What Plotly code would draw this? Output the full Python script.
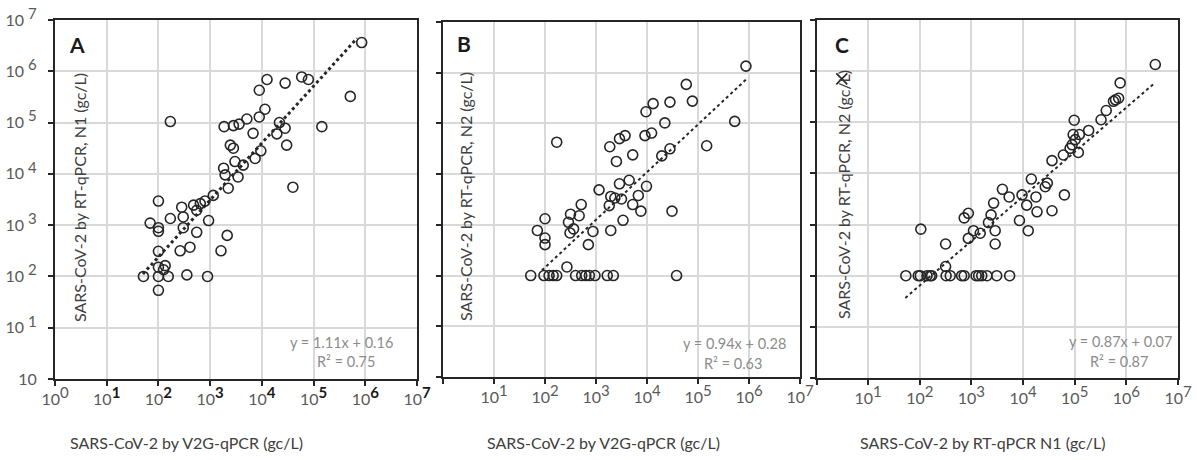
import plotly.graph_objects as go

# ---------------- data (values read as log10 exponents off the log-log chart) ----------------
a_lx = [2.23, 5.93, 5.71, 5.16, 4.77, 4.90, 4.45, 4.10, 3.95, 4.06, 3.95, 4.34, 4.45, 4.29, 4.48,
        3.71, 3.56, 3.45, 3.27, 3.83, 3.39, 3.45, 3.98, 3.87, 3.48, 3.64, 3.26, 3.29, 3.54, 3.35,
        4.60, 2.74, 2.00, 2.45, 2.68, 2.81, 2.90, 3.06, 2.23, 2.48, 2.97, 1.84, 2.00, 2.00, 2.48,
        2.74, 3.33, 2.61, 2.42, 3.21, 2.00, 2.00, 2.13, 2.10, 1.71, 2.00, 2.19, 2.55, 2.95, 2.00]
a_ly = [5.02, 6.56, 5.51, 4.92, 5.89, 5.84, 5.77, 5.84, 5.63, 5.26, 5.11, 5.00, 4.89, 4.78, 4.56,
        5.07, 4.97, 4.94, 4.92, 4.79, 4.56, 4.50, 4.45, 4.30, 4.24, 4.17, 4.11, 3.98, 3.94, 3.72,
        3.74, 3.29, 3.47, 3.35, 3.39, 3.42, 3.47, 3.58, 3.13, 3.16, 3.09, 3.04, 2.95, 2.88, 2.95,
        2.86, 2.80, 2.57, 2.50, 2.50, 2.49, 2.18, 2.21, 2.13, 2.00, 2.00, 2.00, 2.03, 2.00, 1.73]

b_lx = [5.94, 4.77, 4.89, 4.45, 4.12, 3.98, 4.35, 5.72, 4.09, 3.96, 3.57, 3.46, 3.27, 2.23, 3.40,
        3.72, 4.29, 4.45, 5.17, 3.46, 3.65, 3.06, 3.99, 3.29, 3.37, 3.50, 3.83, 3.72, 3.88, 3.26,
        4.49, 2.71, 2.50, 2.67, 2.46, 2.56, 2.49, 2.94, 3.29, 3.53, 2.85, 2.00, 1.85, 2.00, 2.00,
        2.43, 1.72, 1.98, 2.08, 2.16, 2.23, 2.60, 2.72, 2.80, 2.87, 2.98, 3.22, 3.34, 4.58]
b_ly = [6.13, 5.77, 5.44, 5.42, 5.39, 5.23, 5.01, 5.04, 4.81, 4.76, 4.76, 4.70, 4.54, 4.63, 4.25,
        4.38, 4.36, 4.50, 4.56, 3.81, 3.88, 3.69, 3.76, 3.56, 3.53, 3.51, 3.58, 3.40, 3.27, 3.38,
        3.27, 3.40, 3.21, 3.18, 3.05, 2.92, 2.84, 2.87, 2.89, 3.09, 2.61, 3.12, 2.89, 2.74, 2.61,
        2.17, 2.00, 2.00, 2.00, 2.00, 2.00, 2.00, 2.00, 2.00, 2.00, 2.00, 2.00, 2.00, 2.00]

c_lx = [6.56, 5.88, 5.85, 5.79, 5.75, 5.61, 5.51, 4.99, 5.27, 5.09, 4.97, 5.01, 4.95, 4.91, 5.07,
        4.78, 4.56, 4.16, 4.47, 4.43, 3.60, 3.73, 3.98, 4.25, 4.80, 4.07, 4.27, 4.56, 3.43, 3.93,
        4.10, 2.94, 2.86, 3.38, 3.33, 3.46, 3.46, 3.04, 3.17, 2.94, 2.02, 2.50, 2.50,
        1.73, 1.97, 2.01, 2.14, 2.20, 2.23, 2.51, 2.59, 2.81, 2.86, 3.09, 3.14, 3.20, 3.30, 3.49, 3.74]
c_ly = [6.13, 5.77, 5.47, 5.44, 5.41, 5.23, 5.05, 5.04, 4.84, 4.76, 4.76, 4.66, 4.56, 4.49, 4.41,
        4.36, 4.25, 3.89, 3.81, 3.74, 3.69, 3.54, 3.58, 3.54, 3.58, 3.38, 3.25, 3.27, 3.42, 3.08,
        2.88, 3.22, 3.13, 3.19, 3.04, 2.88, 2.62, 2.88, 2.83, 2.73, 2.91, 2.62, 2.18,
        2.00, 2.00, 2.00, 2.00, 2.00, 2.00, 2.00, 2.00, 2.00, 2.00, 2.00, 2.00, 2.00, 2.00, 2.00, 2.00]
c_cross_lx = [0.49]
c_cross_ly = [5.85]

# trendlines: reported fits in log units, with x extents
fits = {"A": (1.11, 0.16), "B": (0.94, 0.28), "C": (0.87, 0.07)}
trend_lx = {"A": [1.70, 5.84], "B": [1.94, 5.94], "C": [1.72, 6.54]}
eq_text = {"A": ("y = 1.11x + 0.16", "R² = 0.75"),
           "B": ("y = 0.94x + 0.28", "R² = 0.63"),
           "C": ("y = 0.87x + 0.07", "R² = 0.87")}

SUP = "<sup><span style='font-size:15px'>%s</span></sup>"
tick_vals = [1, 10, 100, 1e3, 1e4, 1e5, 1e6, 1e7]
a_xticks = ["10" + SUP % "0"] + ["10" + SUP % ("<span style='color:#1a1a1a'><b>%d</b></span>" % i)
                                 for i in range(1, 8)]
bc_xticks = [""] + ["10" + SUP % str(i) for i in range(1, 8)]
a_yticks = ["10"] + ["10 " + SUP % str(i) for i in range(1, 8)]

x_titles = ["SARS-CoV-2 by V2G-qPCR (gc/L)", "SARS-CoV-2 by V2G-qPCR (gc/L)",
            "SARS-CoV-2 by RT-qPCR N1 (gc/L)"]
y_titles = ["SARS-CoV-2 by RT-qPCR, N1 (gc/L)", "SARS-CoV-2 by RT-qPCR, N2 (gc/L)",
            "SARS-CoV-2 by RT-qPCR, N2 (gc/L)"]
letters = ["A", "B", "C"]

# ---------------- layout helpers ----------------
W, H = 1197, 460
FONT = "Lato, 'Liberation Sans', sans-serif"
def px(x): return x / W
def py(y): return 1 - y / H

panels = [  # left, right, top, bottom (pixels)
    (55, 417, 20, 379),
    (443, 800, 22, 377),
    (816.5, 1178, 20, 378),
]

fig = go.Figure()

def pw(v):
    return [10 ** e for e in v]

series = [(a_lx, a_ly), (b_lx, b_ly), (c_lx, c_ly)]
for i, (lx, ly) in enumerate(series):
    xa = "x" if i == 0 else "x%d" % (i + 1)
    ya = "y" if i == 0 else "y%d" % (i + 1)
    L = letters[i]
    s, b = fits[L]
    tx = trend_lx[L]
    fig.add_trace(go.Scatter(
        x=pw(tx), y=[10 ** (s * t + b) for t in tx], mode="lines",
        line=dict(color="#262626", width=3 if i == 0 else 2, dash="dot"),
        xaxis=xa, yaxis=ya, showlegend=False, hoverinfo="skip"))
    fig.add_trace(go.Scatter(
        x=pw(lx), y=pw(ly), mode="markers",
        marker=dict(symbol="circle-open", size=10, color="#262626",
                    line=dict(width=1.6, color="#262626")),
        xaxis=xa, yaxis=ya, showlegend=False))

fig.add_trace(go.Scatter(
    x=pw(c_cross_lx), y=pw(c_cross_ly), mode="markers",
    marker=dict(symbol="x-thin-open", size=11, color="#262626",
                line=dict(width=1.6, color="#262626")),
    xaxis="x3", yaxis="y3", showlegend=False))

layout = dict(width=W, height=H, margin=dict(l=0, r=0, t=0, b=0, autoexpand=False),
              paper_bgcolor="white", plot_bgcolor="white",
              font=dict(family=FONT, size=14, color="#595959"))

for i, (l, r, t, btm) in enumerate(panels):
    xk = "xaxis" if i == 0 else "xaxis%d" % (i + 1)
    yk = "yaxis" if i == 0 else "yaxis%d" % (i + 1)
    ya = "y" if i == 0 else "y%d" % (i + 1)
    xa = "x" if i == 0 else "x%d" % (i + 1)
    common = dict(type="log", range=[0, 7], showgrid=True, gridcolor="#d9d9d9",
                  gridwidth=1.5, zeroline=False, showline=True, linecolor="#262626",
                  linewidth=2, mirror=True, ticks="outside", ticklen=5,
                  tickwidth=1.5, tickcolor="#262626", tickmode="array",
                  tickvals=tick_vals, automargin=False)
    layout[xk] = dict(common, domain=[px(l), px(r)], anchor=ya,
                      ticktext=a_xticks if i == 0 else bc_xticks,
                      tickfont=dict(family=FONT, size=16, color="#595959"))
    layout[yk] = dict(common, domain=[py(btm), py(t)], anchor=xa,
                      ticktext=a_yticks, showticklabels=(i == 0),
                      ticklabelstandoff=8,
                      tickfont=dict(family=FONT, size=16, color="#595959"))

fig.update_layout(**layout)

# white boxes behind the in-plot y-axis titles (hide gridlines there)
boxes = [(58, 99), (446, 480), (829, 857)]
for i, (x0, x1) in enumerate(boxes):
    l, r, t, btm = panels[i]
    fig.add_shape(type="rect", xref="paper", yref="paper",
                  x0=px(x0), x1=px(x1), y0=py(btm - 1.5), y1=py(t + 1.5),
                  fillcolor="white", line=dict(width=0), layer="between")

ytitle_pos = [(80, 198), (465, 197), (843, 195)]
letter_pos = [(77, 45), (464, 43), (842, 45)]
eq_pos = [((341, 342), (346, 361)), ((734, 343), (733, 363)), ((1120, 341), (1119, 361))]
xtitle_pos = [(186, 442), (603, 442), (982, 442)]

def note(x, y, text, size, color, angle=0):
    fig.add_annotation(x=px(x), y=py(y), xref="paper", yref="paper", text=text,
                       textangle=angle, showarrow=False, xanchor="center", yanchor="middle",
                       font=dict(family=FONT, size=size, color=color))

for i in range(3):
    note(ytitle_pos[i][0], ytitle_pos[i][1], y_titles[i], 16, "#404040", -90)
    note(letter_pos[i][0], letter_pos[i][1], "<b>%s</b>" % letters[i], 21, "#1a1a1a")
    e1, e2 = eq_text[letters[i]]
    note(eq_pos[i][0][0], eq_pos[i][0][1], e1, 14.5, "#8c8c8c")
    note(eq_pos[i][1][0], eq_pos[i][1][1], e2, 14.5, "#8c8c8c")
    note(xtitle_pos[i][0], xtitle_pos[i][1], x_titles[i], 16, "#404040")

fig.write_html("out.html", config={"displayModeBar": False},
               post_script="document.body.style.margin='0px';")
